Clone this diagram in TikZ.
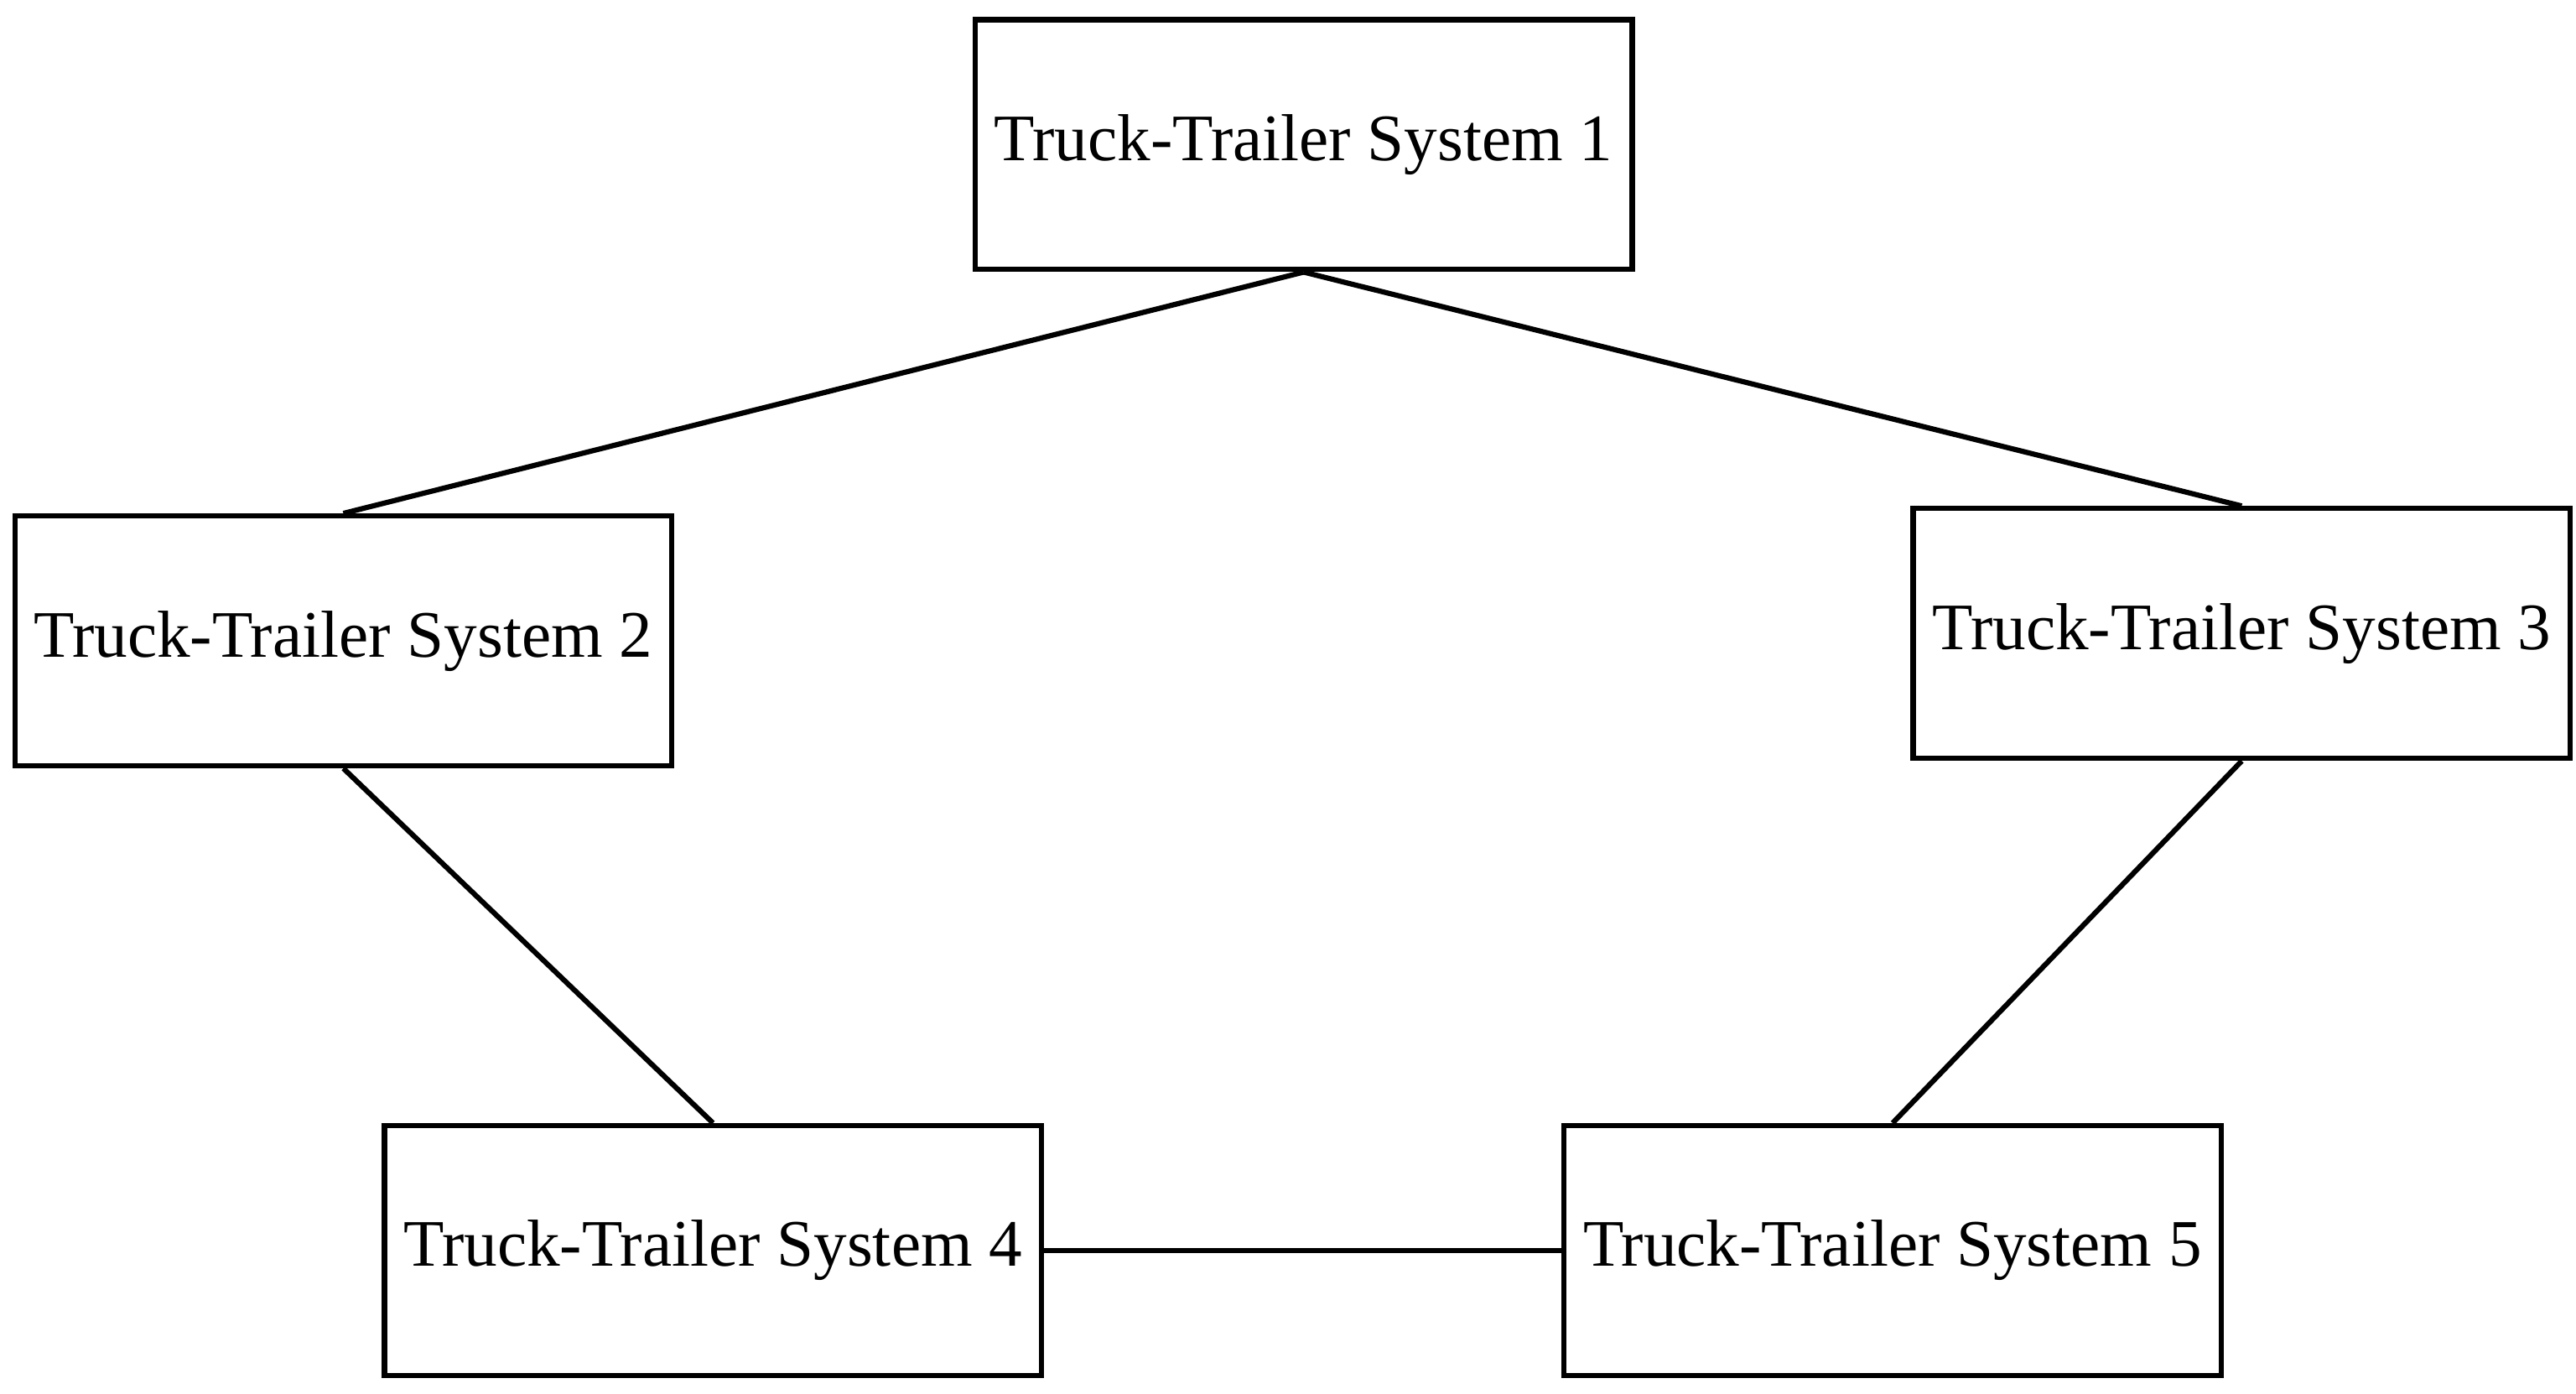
\documentclass[tikz,border=0pt]{standalone}
\usepackage{fontspec}
\setmainfont{Liberation Serif}
\usetikzlibrary{positioning}

\begin{document}
\begin{tikzpicture}[system/.style={rectangle, draw, line width=0.9pt, minimum width=3.93cm, minimum height=1.52cm, font=\fontsize{11.5}{13}\selectfont}, link/.style={line width=0.9pt}]
        \useasboundingbox (0,0) rectangle (15.68,8.48);
        \node (sys1) [system] at (7.935,7.60) {Truck-Trailer System 1};
        \node (sys2) [system] at (2.09,4.58) {Truck-Trailer System 2};
        \node (sys3) [system] at (13.645,4.625) {Truck-Trailer System 3};
        \node (sys4) [system] at (4.34,0.87) {Truck-Trailer System 4};
        \node (sys5) [system] at (11.52,0.87) {Truck-Trailer System 5};

        % ring of links
        \draw[link] (sys1.south) -- (sys2.north);
        \draw[link] (sys1.south) -- (sys3.north);
        \draw[link] (sys2.south) -- (sys4.north);
        \draw[link] (sys3.south) -- (sys5.north);
        \draw[link] (sys4.east) -- (sys5.west);
    \end{tikzpicture}
\end{document}
